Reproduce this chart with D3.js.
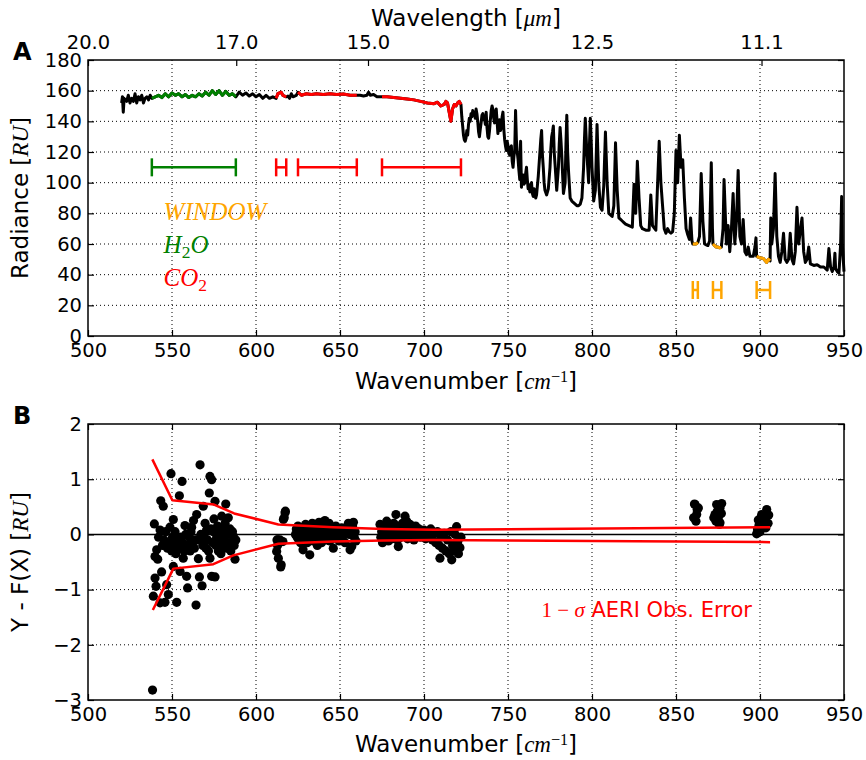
<!DOCTYPE html>
<html>
<head>
<meta charset="utf-8">
<script src="https://cdn.jsdelivr.net/npm/d3@7"></script>
<style>
  body { margin: 0; background: #fff; }
  text { font-family: "DejaVu Sans", sans-serif; }
</style>
</head>
<body>
<svg id="chart" width="866" height="760"></svg>
<script>
// ---- data ----
const wavenumberTicks = [500, 550, 600, 650, 700, 750, 800, 850, 900, 950];
const wavelengthTicks = [20.0, 17.0, 15.0, 12.5, 11.1];
const radianceTicks = [0, 20, 40, 60, 80, 100, 120, 140, 160, 180];
const residTicks = [-3, -2, -1, 0, 1, 2];

// channel groups (cm-1)
const h2oBands = [[538, 588]];
const co2Bands = [[612, 618], [625, 660], [675, 722]];
const windowBands = [[860, 863], [872, 877], [898, 906]];
const bandLevel = { h2o: 110, co2: 110, window: 30 };

// observed spectrum [wavenumber, radiance]
const spectrum = [
  [520,152],[520.5,156],[521,146],[521.5,155],[523,153],[524,157],[525,152],[526,155],[527,153],[528,158],
  [529,152],[530,156],[531,154],[532,157],[533,152],[534,155],[535,156],[536,154],[537,157],[538,155],
  [540,156],[542,157],[544,155.5],[546,158],[548,156],[550,158.5],[552,157],[554,158],[556,156],[558,157.5],
  [560,155.5],[562,157],[564,156],[566,158],[568,156.5],[570,159],[572,157],[574,160],[576,157.5],[578,160],
  [580,157],[582,159.5],[584,157],[586,158],[588,156],[590,159],[592,157],[594,158.5],[596,156.5],[598,158],
  [600,156],[602,157.5],[604,155],[606,157],[608,155],[610,156],[612,155],[613,158],[615,159],[616,157],
  [618,156],[619,156.5],[620,155],[621,158],[622,156],[624,157],[625,159],[627,157],[630,158],[633,157.5],
  [636,158],[640,157.5],[644,158],[648,157.5],[652,157.8],[656,157],[660,157],[662,157],[664,156.5],[666,157],
  [667,159],[668,157],[670,157.5],[672,156],[675,156],[678,156],[682,155.5],[686,155],[690,154.5],[694,154],
  [698,153],[702,152],[706,151.5],[708,152.5],[710,150],[712,151],[713,153],[714,152],[715,146],[716,140],
  [717,148],[718,151],[719,150],[720,152],[721,153],[722,151],
  [722.5,143],[723,137],[723.5,131],[724,128],[724.5,127],[725,129],[725.5,134],[726,131],[726.5,138],[727,142],
  [727.5,140],[728,145],[728.5,143],[729,147],[729.5,144],[730,146],[730.5,142],[731,148],[731.5,145],[732,140],
  [732.5,133],[733,130],[733.5,135],[734,139],[734.5,144],[735,145],[735.5,141],[736,143],[736.5,138],[737,146],
  [737.5,136],[738,130],[738.5,129],[739,134],[739.5,141],[740,147],[740.5,150],[741,148],[741.5,142],[742,139],
  [742.5,146],[743,148],[743.5,140],[744,132],[744.5,137],[745,141],[745.5,134],[746,136],[746.5,143],[747,146],
  [747.5,135],[748,128],[748.5,124],[749,121],[749.5,127],[750,124],[750.5,119],[751,118],[751.5,123],[752,124],
  [752.5,114],[753,110],[753.5,117],[754,121],[754.5,147],[755,128],[755.5,120],[756,115],[756.5,108],[757,102],
  [757.5,127],[758,97],[758.5,103],[759,105],[759.5,99],[760,100],[760.5,106],[761,110],[761.5,102],[762,96],
  [762.5,98],[763,94],[763.5,99],[764,100],[764.5,93],[765,91],[765.5,96],[766,95],[766.5,90],[767,92],
  [767.5,98],[768,104],[768.5,112],[769,120],[769.5,128],[770,134],[770.5,118],[771,110],[771.5,100],[772,95],
  [773,92],[774,96],[775,110],[775.5,122],[776,130],[776.5,133],[777,137],[777.5,120],[778,112],[779,95],
  [780,110],[780.5,125],[781,136],[781.5,128],[782,118],[783,93],[784,100],[784.5,125],[785,144],[785.5,120],
  [786,108],[787,90],[788,88],[789,87],[790,86],[791,85],[792,85],[793,86],[794,90],[795,110],
  [795.5,128],[796,142],[796.5,130],[797,118],[798,100],[798.5,125],[799,142],[799.5,128],[800,110],[801,88],
  [802,95],[803,138],[804,100],[805,84],[806,82],[807,98],[808,133],[809,100],[810,80],[811,79],
  [812,78],[813,85],[814,126],[815,95],[816,77],[817,76],[818,75],[819,74],[820,73],[822,72],
  [824,71],[825,99],[826,80],[827,114],[828,90],[829,72],[830,70],[832,69],[834,69],[835,92],
  [836,72],[838,69],[840,127],[841,100],[842,85],[843,70],[844,67],[845,70],[846,68],[847,67],
  [848,68],[849,80],[850,121],[851,100],[852,131],[853,110],[854,115],[855,90],[856,70],[857,66],
  [858,63],[858.7,77],[859.5,62],[860,60],[862,60],[863,61],[864,65],[865,106],[866,75],[867,60],
  [868,59.5],[869,59],[870,62],[871,113],[871.7,70],[872,60],[873,59],[874,58],[875,58],[876,57.5],
  [877,58],[878,70],[878.6,102],[879.5,75],[880,60],[881,72],[882,55],[883,70],[884,93],[885,60],
  [886,75],[887,108],[888,65],[889,60],[890,76],[891,55],[892,53],[893,58],[894,52],[895,52],
  [896,52],[897,58],[897.6,64],[898,52],[900,51],[902,50.5],[904,48],[905,50],[906,49],[906.4,77],
  [907,60],[908,70],[909,106],[910,65],[911,52],[912,48],[913,55],[914,67],[915,50],[916,48],
  [917,50],[918,67],[919,50],[920,47],[921,55],[922,84],[923,60],[925,77],[926,55],[927,48],
  [928,50],[929,58],[930,47],[932,46],[934,46.5],[936,45],[938,45],[940,43],[941,57],[942,45],
  [943,42],[944,45],[944.6,54],[945,44],[946,42],[947,41],[948,60],[948.6,91],[949,60],[950,42]
];

// residuals Y - F(X) [wavenumber, value]
const h2oResid = [
  [538.4,-2.82],[538.9,-1.12],[539.5,0.19],[539.9,-0.40],[539.9,-0.79],[540.5,-0.94],[540.9,-0.28],[541.5,-0.45],
  [542.0,-0.05],[542.9,0.08],[542.9,-1.24],[543.3,0.61],[543.8,-0.68],[544.3,-0.20],[544.8,0.51],[545.3,-0.10],
  [545.8,-1.23],[546.3,0.05],[546.8,-0.91],[547.3,-0.25],[547.8,-1.09],[548.3,-0.15],[548.8,0.13],[549.4,1.10],
  [549.8,-0.30],[550.3,-0.05],[550.8,0.27],[550.8,-0.58],[551.3,-0.20],[551.8,0.05],[552.3,-0.35],[552.8,-1.23],
  [553.3,-0.10],[553.8,-0.25],[554.4,0.70],[554.8,-0.67],[555.3,-0.05],[556.0,0.96],[556.4,-0.15],[556.7,-0.43],
  [557.2,-0.30],[557.7,0.16],[558.2,0.00],[558.7,-0.76],[559.3,-0.97],[559.8,-0.20],[560.3,-0.05],[560.8,-0.30],
  [561.3,0.05],[561.7,0.13],[562.2,-0.15],[562.8,0.25],[563.3,-0.25],[563.8,-0.10],[564.3,-1.28],[564.7,0.36],
  [565.2,-0.10],[565.7,-0.44],[566.3,-0.77],[566.7,1.26],[567.2,0.00],[567.9,-0.93],[568.3,-0.20],[568.6,0.51],
  [569.2,-0.05],[569.7,0.20],[570.2,-0.25],[570.6,0.08],[571.2,-0.10],[571.7,-0.30],[572.2,0.75],[572.6,1.05],
  [572.6,-0.43],[573.1,0.10],[573.6,0.99],[573.6,-0.76],[574.1,-0.15],[574.6,0.05],[575.0,0.28],[575.6,0.60],
  [575.6,-0.77],[576.1,-0.20],[576.6,-0.05],[577.1,0.15],[577.6,-0.30],[578.1,0.05],[578.6,-0.15],[579.1,-0.35],
  [579.6,0.33],[580.1,0.10],[580.6,-0.20],[581.1,-0.05],[581.6,0.20],[582.0,0.55],[582.5,-0.25],[583.0,0.00],
  [583.5,0.30],[584.0,-0.15],[584.5,0.10],[585.0,-0.30],[585.5,-0.16],[586.0,0.05],[586.5,-0.04],[587.0,-0.20],
  [587.5,-0.45],[588.0,-0.10]
];
const co2Resid = [
  [612.3,-0.31],[612.5,-0.10],[612.8,-0.20],[613.0,-0.10],[613.3,-0.43],[613.6,-0.15],[614.0,-0.12],[614.3,-0.10],
  [614.7,-0.59],[615.0,-0.55],[616.0,-0.13],[616.3,0.27],[616.8,0.30],[617.3,0.39],[617.5,0.42],
  [623.5,0.00],[624.0,0.10],[624.5,-0.05],[625.0,0.15],[625.5,-0.10],[626.0,0.05],[626.5,-0.15],[627.0,0.12],
  [627.5,0.00],[628.0,-0.28],[628.5,0.05],[629.0,-0.10],[629.5,0.18],[630.0,0.02],[630.5,-0.15],[631.0,0.08],
  [631.5,-0.05],[632.0,-0.37],[632.5,0.12],[633.0,-0.02],[633.5,0.20],[634.0,-0.12],[634.5,0.05],[635.0,0.15],
  [635.5,-0.08],[636.0,0.10],[636.5,-0.20],[637.0,0.03],[637.5,0.22],[638.0,-0.05],[638.5,0.12],[639.0,-0.15],
  [639.5,0.08],[640.0,0.18],[640.5,-0.02],[641.0,0.25],[641.5,0.05],[642.0,-0.10],[642.5,0.15],[643.0,0.00],
  [643.5,0.20],[644.0,-0.12],[644.5,0.08],[645.0,0.12],[645.5,-0.05],[646.0,-0.25],[646.5,0.10],[647.0,0.02],
  [647.5,0.15],[648.0,-0.08],[648.5,0.05],[649.0,0.00],[649.5,-0.12],[650.0,0.08],[650.5,-0.02],[651.0,0.12],
  [651.5,-0.10],[652.0,0.02],[652.5,0.05],[653.0,-0.15],[654.0,0.10],[655.0,0.20],[655.5,0.00],[656.0,-0.28],
  [656.5,0.08],[657.0,-0.22],[657.5,0.15],[658.0,0.22],[658.5,-0.05],[659.0,0.05],[659.5,-0.12],
  [673.8,0.18],[674.3,-0.05],[674.8,0.05],[675.3,-0.15],[675.8,0.10],[676.3,-0.02],[676.8,0.15],[677.3,-0.10],
  [677.8,0.24],[678.3,0.05],[678.8,-0.12],[679.3,0.08],[680.0,0.00],[680.5,0.15],[681.0,-0.08],[681.5,0.05],
  [682.0,0.20],[682.5,-0.05],[683.3,0.36],[683.8,0.10],[684.3,-0.10],[684.7,-0.22],[685.2,0.05],[685.7,0.15],
  [686.2,-0.05],[686.7,0.10],[687.2,0.20],[687.7,-0.02],[688.2,0.08],[688.7,0.33],[689.2,0.05],[689.7,0.24],
  [690.2,-0.08],[690.7,0.12],[691.2,0.02],[691.7,0.18],[692.2,-0.05],[692.7,0.10],[693.5,0.05],[694.0,-0.10],
  [694.5,0.08],[695.0,0.15],[695.5,-0.02],[696.0,0.05],[697.0,0.10],[698.0,-0.05],[699.0,0.02],[700.0,0.08],
  [701.0,-0.08],[702.0,0.05],[703.0,-0.02],[704.0,0.10],[705.0,-0.10],[706.0,0.02],[707.0,-0.15],[708.0,0.05],
  [709.0,-0.20],[709.5,-0.43],[710.0,-0.05],[711.0,-0.25],[712.0,0.02],[713.0,-0.30],[714.0,-0.10],[715.0,-0.35],
  [716.0,0.05],[716.5,-0.46],[717.0,-0.20],[718.0,-0.30],[718.5,0.00],[719.4,0.14],[720.0,-0.15],[720.5,-0.35],
  [721.4,-0.24],[722.0,-0.05]
];
const windowResid = [
  [860.5,0.30],[861.0,0.55],[861.3,0.54],[861.9,0.24],[862.3,0.36],[862.6,0.45],[863.3,0.48],
  [872.5,0.30],[873.2,0.36],[873.8,0.24],[874.2,0.54],[874.6,0.42],[875.2,0.30],[875.8,0.18],[876.2,0.48],
  [876.2,0.21],[877.2,0.56],[877.0,0.38],
  [898.0,0.01],[898.5,0.10],[899.0,0.26],[899.0,0.08],[899.5,0.18],[900.0,0.05],[900.5,0.30],[901.0,0.36],
  [901.5,0.15],[902.0,0.14],[902.5,0.22],[903.0,0.30],[903.5,0.12],[904.0,0.45],[904.8,0.20],[905.2,0.35]
];

// 1-sigma AERI observation error envelope
const errUpper = [[538.3,1.36],[550.2,0.62],[575,0.54],[587,0.38],[613.3,0.18],[646,0.13],[676,0.10],[706,0.085],[906,0.13]];
const errLower = [[538.6,-1.37],[550.8,-0.62],[574.6,-0.54],[586.5,-0.38],[613.3,-0.17],[646,-0.13],[676,-0.11],[706,-0.10],[906,-0.14]];

// ---- drawing ----
const svg = d3.select("#chart");
svg.append("rect").attr("width", 866).attr("height", 760).attr("fill", "#fff");

const left = 88, right = 844;
const x = d3.scaleLinear().domain([500, 950]).range([left, right]);
const yA = d3.scaleLinear().domain([0, 180]).range([336, 60]);
const yB = d3.scaleLinear().domain([-3, 2]).range([700, 424]);

const GREEN = "#008000", RED = "#ff0000", ORANGE = "#ffa500";
const serif = '"Liberation Serif", "DejaVu Serif", serif';

// text with italic serif (mathtext-like) parts
function richText(g, parts) {
  parts.forEach(p => {
    const t = g.append("tspan").text(p.t);
    if (p.math) t.attr("font-family", serif).attr("font-style", p.upright ? "normal" : "italic");
    if (p.sub) t.attr("font-size", "0.7em").attr("dy", "0.25em");
    if (p.sup) t.attr("font-size", "0.7em").attr("dy", "-0.45em");
    if (p.back) t.attr("dy", p.back);
  });
  return g;
}

function styleAxis(g) {
  g.select(".domain").remove();
  g.attr("font-family", "DejaVu Sans").attr("font-size", 19.5);
  g.selectAll("line").attr("stroke", "#000").attr("stroke-width", 1.2);
  g.selectAll("text").attr("fill", "#000");
}

function panel(y, yTicks, gridY, top, bottom) {
  const g = svg.append("g");
  // grid
  g.selectAll(".gx").data(wavenumberTicks.slice(1, -1)).join("line")
    .attr("x1", d => x(d)).attr("x2", d => x(d)).attr("y1", top).attr("y2", bottom)
    .attr("stroke", "#000").attr("stroke-width", 1).attr("stroke-dasharray", "1,3");
  g.selectAll(".gy").data(gridY).join("line")
    .attr("x1", left).attr("x2", right).attr("y1", d => y(d)).attr("y2", d => y(d))
    .attr("stroke", "#000").attr("stroke-width", 1).attr("stroke-dasharray", "1,3");
  // axes (ticks pointing inward)
  g.append("g").attr("transform", `translate(0,${bottom})`)
    .call(d3.axisBottom(x).tickValues(wavenumberTicks).tickSize(-6).tickPadding(7).tickFormat(d3.format("d")))
    .call(styleAxis);
  g.append("g").attr("transform", `translate(${left},0)`)
    .call(d3.axisLeft(y).tickValues(yTicks).tickSize(-6).tickPadding(6).tickFormat(d3.format("d")))
    .call(styleAxis);
  g.append("g").attr("transform", `translate(${right},0)`)
    .call(d3.axisRight(y).tickValues(yTicks).tickSize(-6).tickFormat(""))
    .call(styleAxis);
  return g;
}

// ---------- panel A ----------
const gA = panel(yA, radianceTicks, radianceTicks.slice(1, -1), 60, 336);

// top wavelength axis
svg.append("g").attr("transform", "translate(0,60)")
  .call(d3.axisTop(x).tickValues(wavelengthTicks.map(l => 10000 / l)).tickSize(-6).tickPadding(11)
    .tickFormat((d, i) => wavelengthTicks[i].toFixed(1)))
  .call(styleAxis);

const line = d3.line().x(d => x(d[0])).y(d => yA(d[1]));
gA.append("path").datum(spectrum).attr("d", line)
  .attr("fill", "none").attr("stroke", "#000").attr("stroke-width", 3).attr("stroke-linejoin", "round");

// highlight channel groups on the spectrum
[[h2oBands, GREEN], [co2Bands, RED], [windowBands, ORANGE]].forEach(([bands, col]) => {
  bands.forEach(([lo, hi]) => {
    gA.append("path").datum(spectrum.filter(d => d[0] >= lo && d[0] <= hi)).attr("d", line)
      .attr("fill", "none").attr("stroke", col).attr("stroke-width", 3).attr("stroke-linejoin", "round");
  });
});

// band range markers
function bandMarkers(bands, level, col) {
  bands.forEach(([lo, hi]) => {
    const yy = yA(level);
    gA.append("line").attr("x1", x(lo)).attr("x2", x(hi)).attr("y1", yy).attr("y2", yy)
      .attr("stroke", col).attr("stroke-width", 2.5);
    [lo, hi].forEach(v => gA.append("line").attr("x1", x(v)).attr("x2", x(v))
      .attr("y1", yy - 9).attr("y2", yy + 9).attr("stroke", col).attr("stroke-width", 2.5));
  });
}
bandMarkers(h2oBands, bandLevel.h2o, GREEN);
bandMarkers(co2Bands, bandLevel.co2, RED);
bandMarkers(windowBands, bandLevel.window, ORANGE);

// annotation labels
const labX = x(545);
richText(gA.append("text").attr("x", labX).attr("y", yA(75.5)).attr("font-size", 25).attr("fill", ORANGE),
  [{ t: "WINDOW", math: true }]);
richText(gA.append("text").attr("x", labX).attr("y", yA(54)).attr("font-size", 25).attr("fill", GREEN),
  [{ t: "H", math: true }, { t: "2", math: true, upright: true, sub: true }, { t: "O", math: true, back: "-0.175em" }]);
richText(gA.append("text").attr("x", labX).attr("y", yA(32.5)).attr("font-size", 25).attr("fill", RED),
  [{ t: "CO", math: true }, { t: "2", math: true, upright: true, sub: true }]);

gA.append("rect").attr("x", left).attr("y", 60).attr("width", right - left).attr("height", 276)
  .attr("fill", "none").attr("stroke", "#000").attr("stroke-width", 1.5);

// ---------- panel B ----------
const gB = panel(yB, residTicks, [-2, -1, 1], 424, 700);
svg.append("g").attr("transform", "translate(0,424)")
  .call(d3.axisTop(x).tickValues(wavenumberTicks).tickSize(-6).tickFormat(""))
  .call(styleAxis);

gB.append("line").attr("x1", left).attr("x2", right).attr("y1", yB(0)).attr("y2", yB(0))
  .attr("stroke", "#000").attr("stroke-width", 1.5);

gB.selectAll(".dot").data(h2oResid.concat(co2Resid, windowResid)).join("circle")
  .attr("cx", d => x(d[0])).attr("cy", d => yB(d[1])).attr("r", 4.6).attr("fill", "#000");

const lineB = d3.line().x(d => x(d[0])).y(d => yB(d[1]));
[errUpper, errLower].forEach(e => gB.append("path").datum(e).attr("d", lineB)
  .attr("fill", "none").attr("stroke", RED).attr("stroke-width", 2.5).attr("stroke-linejoin", "round"));

richText(gB.append("text").attr("x", x(770)).attr("y", yB(-1.49)).attr("font-size", 21).attr("fill", RED),
  [{ t: "1", math: true, upright: true }, { t: " \u2212 ", math: true, upright: true }, { t: "\u03c3", math: true },
   { t: " AERI Obs. Error" }]);

gB.append("rect").attr("x", left).attr("y", 424).attr("width", right - left).attr("height", 276)
  .attr("fill", "none").attr("stroke", "#000").attr("stroke-width", 1.5);

// ---------- titles and labels ----------
const cx = (left + right) / 2;
richText(svg.append("text").attr("x", cx).attr("y", 26).attr("text-anchor", "middle").attr("font-size", 23),
  [{ t: "Wavelength [" }, { t: "\u03bcm", math: true }, { t: "]" }]);
[389, 752].forEach(yy => richText(
  svg.append("text").attr("x", cx).attr("y", yy).attr("text-anchor", "middle").attr("font-size", 23),
  [{ t: "Wavenumber [" }, { t: "cm", math: true }, { t: "\u22121", math: true, upright: true, sup: true },
   { t: "]", back: "0.315em" }]));
richText(svg.append("text").attr("transform", "translate(28,198) rotate(-90)").attr("text-anchor", "middle").attr("font-size", 23),
  [{ t: "Radiance [" }, { t: "RU", math: true }, { t: "]" }]);
richText(svg.append("text").attr("transform", "translate(28,562) rotate(-90)").attr("text-anchor", "middle").attr("font-size", 23),
  [{ t: "Y - F(X) [" }, { t: "RU", math: true }, { t: "]" }]);

svg.append("text").attr("x", 13).attr("y", 60).attr("font-size", 24).attr("font-weight", "bold").text("A");
svg.append("text").attr("x", 13).attr("y", 424).attr("font-size", 24).attr("font-weight", "bold").text("B");
</script>
</body>
</html>
